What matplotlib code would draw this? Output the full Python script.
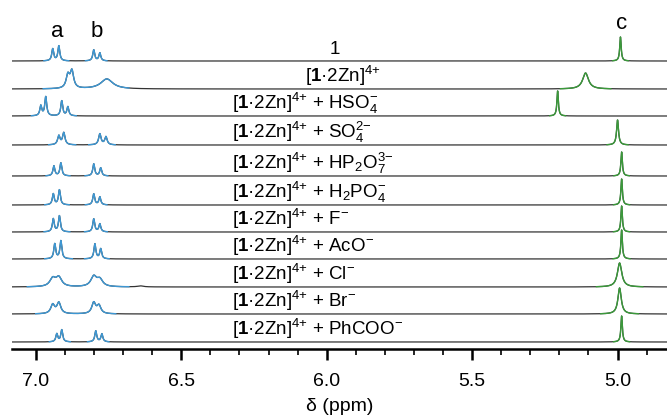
import numpy as np
import matplotlib
matplotlib.use("Agg")
import matplotlib.pyplot as plt

plt.rcParams['font.family'] = ['Liberation Sans', 'DejaVu Sans']
plt.rcParams['mathtext.fontset'] = 'custom'
plt.rcParams['mathtext.rm'] = 'Liberation Sans'
plt.rcParams['mathtext.it'] = 'Liberation Sans:italic'
plt.rcParams['mathtext.bf'] = 'Liberation Sans:bold'

# ---- data ----
labels = [
    "1",
    r"[$\mathbf{1}$·2Zn]$^{4{+}}$",
    r"[$\mathbf{1}$·2Zn]$^{4{+}}$ + HSO$_4^{-}$",
    r"[$\mathbf{1}$·2Zn]$^{4{+}}$ + SO$_4^{2{-}}$",
    r"[$\mathbf{1}$·2Zn]$^{4{+}}$ + HP$_2$O$_7^{3{-}}$",
    r"[$\mathbf{1}$·2Zn]$^{4{+}}$ + H$_2$PO$_4^{-}$",
    r"[$\mathbf{1}$·2Zn]$^{4{+}}$ + F$^{-}$",
    r"[$\mathbf{1}$·2Zn]$^{4{+}}$ + AcO$^{-}$",
    r"[$\mathbf{1}$·2Zn]$^{4{+}}$ + Cl$^{-}$",
    r"[$\mathbf{1}$·2Zn]$^{4{+}}$ + Br$^{-}$",
    r"[$\mathbf{1}$·2Zn]$^{4{+}}$ + PhCOO$^{-}$",
]
offsets = [288, 260, 233, 204, 173, 144, 117, 90, 62, 35, 7]

# aromatic peaks (a, b): positions (ppm), heights, half-widths (ppm)
arom_pos = [
    [6.942, 6.921, 6.801, 6.780],
    [6.890, 6.876, 6.756],
    [6.983, 6.966, 6.911, 6.890],
    [6.921, 6.904, 6.780, 6.759],
    [6.938, 6.914, 6.801, 6.777],
    [6.940, 6.919, 6.801, 6.780],
    [6.940, 6.919, 6.801, 6.780],
    [6.935, 6.914, 6.797, 6.777],
    [6.942, 6.921, 6.801, 6.780, 6.640],
    [6.942, 6.921, 6.801, 6.783],
    [6.928, 6.911, 6.794, 6.773],
]
arom_h = [
    [12, 15, 11, 8],
    [13, 17, 10],
    [10, 19, 15, 9],
    [9, 12, 11, 8],
    [10, 13, 12, 8],
    [11, 15, 11, 8],
    [13, 16, 13, 8],
    [15, 18, 15, 10],
    [8, 9, 10, 7, 1],
    [9, 11, 11, 8],
    [8, 12, 11, 8],
]
arom_w = [0.004, 0.007, 0.004, 0.005, 0.004, 0.004, 0.004, 0.004, 0.012, 0.008, 0.004]
b_width_row2 = 0.025

# signal c: position, height, half-width
c_pos = [4.990, 5.110, 5.206, 5.000, 4.986, 4.986, 4.986, 4.986, 4.993, 4.993, 4.986]
c_h = [24, 16, 25, 25, 24, 26, 26, 29, 24, 26, 26]
c_w = [0.003, 0.012, 0.003, 0.004, 0.003, 0.003, 0.003, 0.003, 0.009, 0.007, 0.003]

peak_names = ["a", "b", "c"]
peak_name_ppm = [6.928, 6.790, 4.987]
xticks_major = [7.0, 6.5, 6.0, 5.5, 5.0]

BLUE = "#3d97d3"
GREEN = "#3a9a3a"
DARK = "#333333"


def lorentz(x, x0, h, w):
    return h * w**2 / ((x - x0)**2 + w**2)


fig = plt.figure(figsize=(6.67, 4.17), dpi=100)
ax = fig.add_axes([12 / 667, 68 / 417, 1 - 12 / 667, 1 - 68 / 417])
x = np.linspace(7.09, 4.82, 6000)

for i in range(len(labels)):
    s_ar = np.zeros_like(x)
    for j, (p, h) in enumerate(zip(arom_pos[i], arom_h[i])):
        w = arom_w[i]
        if i == 1 and j == 2:
            w = b_width_row2
        s_ar += lorentz(x, p, h, w)
    s_c = lorentz(x, c_pos[i], c_h[i], c_w[i])
    y = offsets[i] + s_ar + s_c
    ax.plot(x, y, color=DARK, lw=0.9, solid_capstyle='butt')
    blue = np.ma.masked_where(~((s_ar > 0.3) & (x > 6.68)), y)
    green = np.ma.masked_where(~((s_c > 0.3) & (x < 5.6)), y)
    ax.plot(x, blue, color=BLUE, lw=1.0)
    ax.plot(x, green, color=GREEN, lw=1.0)

    ty = offsets[i] + 7
    if i == 0:
        ax.text(5.973, ty, labels[i], ha='center', va='baseline', fontsize=13.5)
    elif i == 1:
        ax.text(5.945, ty, labels[i], ha='center', va='baseline', fontsize=13.5)
    else:
        ax.text(6.326, ty, labels[i], ha='left', va='baseline', fontsize=13.5)

for name, p in zip(peak_names, peak_name_ppm):
    yy = 320 if name == "c" else 312
    ax.text(p, yy, name, ha='center', va='baseline', fontsize=16)

ax.set_xlim(7.082, 4.83)
ax.set_ylim(0, 349)
for sp in ['top', 'left', 'right']:
    ax.spines[sp].set_visible(False)
ax.spines['bottom'].set_linewidth(1.8)
ax.set_yticks([])
ax.set_xticks(xticks_major)
ax.set_xticklabels([f"{v:.1f}" for v in xticks_major])
ax.set_xticks(np.arange(4.9, 7.09, 0.1), minor=True)
ax.tick_params(axis='x', which='major', direction='out', length=8, width=1.8,
               labelsize=14, pad=9)
ax.tick_params(axis='x', which='minor', direction='out', length=4.5, width=1.2)
ax.set_xlabel("δ (ppm)", fontsize=14, labelpad=6)

fig.savefig("out.png", dpi=100)
